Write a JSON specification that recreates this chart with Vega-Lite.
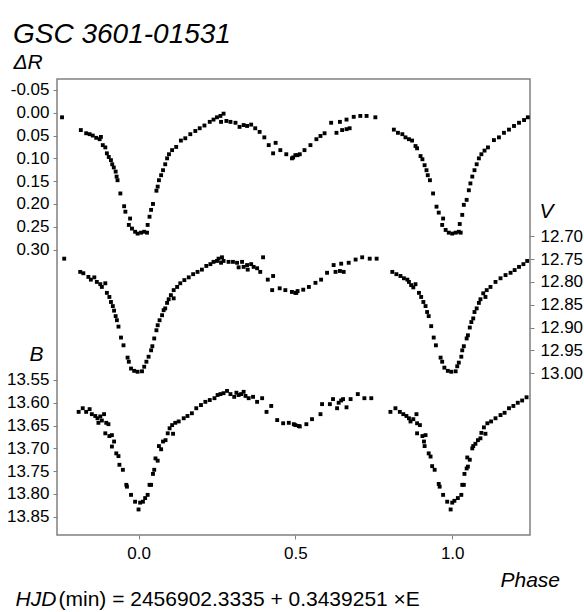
{
  "$schema": "https://vega.github.io/schema/vega-lite/v6.json",
  "width": 473,
  "height": 456,
  "autosize": {"type": "none"},
  "padding": {"left": 57, "top": 79, "right": 54, "bottom": 77},
  "background": "white",
  "title": {
    "text": "GSC 3601-01531",
    "anchor": "start",
    "frame": "group",
    "dx": -44,
    "dy": 2,
    "fontSize": 28,
    "fontStyle": "italic",
    "fontWeight": "normal",
    "font": "Liberation Sans",
    "color": "black"
  },
  "config": {
    "font": "Liberation Sans",
    "view": {"stroke": "#808080", "strokeWidth": 1.5},
    "axis": {
      "domain": false,
      "grid": false,
      "tickColor": "#808080",
      "tickSize": 4,
      "labelFont": "Liberation Sans",
      "labelFontSize": 17,
      "labelColor": "black",
      "titleFont": "Liberation Sans",
      "titleFontSize": 21,
      "titleFontStyle": "italic",
      "titleFontWeight": "normal",
      "titleColor": "black"
    }
  },
  "datasets": {
    "R": [
      {"phase": -0.244, "R": 0.010}, {"phase": -0.184, "R": 0.038}, {"phase": -0.167, "R": 0.045}, {"phase": -0.156, "R": 0.047},
      {"phase": -0.146, "R": 0.050}, {"phase": -0.135, "R": 0.055}, {"phase": -0.124, "R": 0.058}, {"phase": -0.120, "R": 0.053},
      {"phase": -0.114, "R": 0.071}, {"phase": -0.106, "R": 0.076}, {"phase": -0.101, "R": 0.089}, {"phase": -0.095, "R": 0.097},
      {"phase": -0.088, "R": 0.104}, {"phase": -0.084, "R": 0.113}, {"phase": -0.079, "R": 0.120}, {"phase": -0.073, "R": 0.129},
      {"phase": -0.070, "R": 0.140}, {"phase": -0.067, "R": 0.148}, {"phase": -0.058, "R": 0.177}, {"phase": -0.046, "R": 0.205},
      {"phase": -0.042, "R": 0.217}, {"phase": -0.027, "R": 0.232}, {"phase": -0.031, "R": 0.246}, {"phase": -0.021, "R": 0.254},
      {"phase": -0.011, "R": 0.261}, {"phase": -0.003, "R": 0.265}, {"phase": 0.008, "R": 0.263}, {"phase": 0.018, "R": 0.261},
      {"phase": 0.027, "R": 0.263}, {"phase": 0.029, "R": 0.246}, {"phase": 0.035, "R": 0.228}, {"phase": 0.040, "R": 0.213},
      {"phase": 0.046, "R": 0.200}, {"phase": 0.057, "R": 0.171}, {"phase": 0.061, "R": 0.162}, {"phase": 0.065, "R": 0.148},
      {"phase": 0.072, "R": 0.137}, {"phase": 0.078, "R": 0.126}, {"phase": 0.085, "R": 0.113}, {"phase": 0.091, "R": 0.100},
      {"phase": 0.097, "R": 0.091}, {"phase": 0.107, "R": 0.082}, {"phase": 0.120, "R": 0.075}, {"phase": 0.135, "R": 0.061},
      {"phase": 0.149, "R": 0.056}, {"phase": 0.165, "R": 0.047}, {"phase": 0.181, "R": 0.040}, {"phase": 0.195, "R": 0.034},
      {"phase": 0.210, "R": 0.028}, {"phase": 0.227, "R": 0.020}, {"phase": 0.239, "R": 0.015}, {"phase": 0.250, "R": 0.010},
      {"phase": 0.261, "R": 0.007}, {"phase": 0.271, "R": 0.002}, {"phase": 0.263, "R": 0.020}, {"phase": 0.280, "R": 0.018},
      {"phase": 0.293, "R": 0.020}, {"phase": 0.309, "R": 0.022}, {"phase": 0.322, "R": 0.031}, {"phase": 0.335, "R": 0.027},
      {"phase": 0.346, "R": 0.029}, {"phase": 0.359, "R": 0.026}, {"phase": 0.372, "R": 0.034}, {"phase": 0.386, "R": 0.042},
      {"phase": 0.401, "R": 0.054}, {"phase": 0.415, "R": 0.071}, {"phase": 0.429, "R": 0.089}, {"phase": 0.437, "R": 0.066},
      {"phase": 0.452, "R": 0.082}, {"phase": 0.471, "R": 0.091}, {"phase": 0.489, "R": 0.100}, {"phase": 0.493, "R": 0.098},
      {"phase": 0.500, "R": 0.093}, {"phase": 0.507, "R": 0.093}, {"phase": 0.514, "R": 0.091}, {"phase": 0.529, "R": 0.082},
      {"phase": 0.548, "R": 0.071}, {"phase": 0.567, "R": 0.058}, {"phase": 0.580, "R": 0.051}, {"phase": 0.593, "R": 0.045},
      {"phase": 0.614, "R": 0.022}, {"phase": 0.631, "R": 0.044}, {"phase": 0.642, "R": 0.020}, {"phase": 0.649, "R": 0.038},
      {"phase": 0.663, "R": 0.036}, {"phase": 0.673, "R": 0.034}, {"phase": 0.663, "R": 0.015}, {"phase": 0.686, "R": 0.009},
      {"phase": 0.707, "R": 0.007}, {"phase": 0.727, "R": 0.007}, {"phase": 0.755, "R": 0.010}, {"phase": 0.814, "R": 0.037},
      {"phase": 0.827, "R": 0.044}, {"phase": 0.841, "R": 0.047}, {"phase": 0.851, "R": 0.054}, {"phase": 0.862, "R": 0.058},
      {"phase": 0.872, "R": 0.061}, {"phase": 0.883, "R": 0.073}, {"phase": 0.888, "R": 0.078}, {"phase": 0.899, "R": 0.095},
      {"phase": 0.905, "R": 0.102}, {"phase": 0.912, "R": 0.115}, {"phase": 0.918, "R": 0.126}, {"phase": 0.922, "R": 0.137},
      {"phase": 0.929, "R": 0.148}, {"phase": 0.939, "R": 0.177}, {"phase": 0.950, "R": 0.206}, {"phase": 0.957, "R": 0.219},
      {"phase": 0.971, "R": 0.232}, {"phase": 0.968, "R": 0.246}, {"phase": 0.979, "R": 0.257}, {"phase": 0.989, "R": 0.263},
      {"phase": 1.000, "R": 0.265}, {"phase": 1.011, "R": 0.263}, {"phase": 1.021, "R": 0.261}, {"phase": 1.027, "R": 0.263},
      {"phase": 1.024, "R": 0.244}, {"phase": 1.032, "R": 0.224}, {"phase": 1.037, "R": 0.202}, {"phase": 1.046, "R": 0.191},
      {"phase": 1.053, "R": 0.170}, {"phase": 1.058, "R": 0.155}, {"phase": 1.064, "R": 0.140}, {"phase": 1.071, "R": 0.126},
      {"phase": 1.078, "R": 0.113}, {"phase": 1.085, "R": 0.100}, {"phase": 1.093, "R": 0.091}, {"phase": 1.103, "R": 0.083},
      {"phase": 1.114, "R": 0.076}, {"phase": 1.133, "R": 0.060}, {"phase": 1.149, "R": 0.054}, {"phase": 1.165, "R": 0.044},
      {"phase": 1.181, "R": 0.037}, {"phase": 1.197, "R": 0.029}, {"phase": 1.213, "R": 0.022}, {"phase": 1.229, "R": 0.016},
      {"phase": 1.241, "R": 0.010}
    ],
    "V": [
      {"phase": -0.237, "V": 12.749}, {"phase": -0.186, "V": 12.778}, {"phase": -0.176, "V": 12.781}, {"phase": -0.160, "V": 12.789},
      {"phase": -0.152, "V": 12.795}, {"phase": -0.141, "V": 12.790}, {"phase": -0.133, "V": 12.800}, {"phase": -0.122, "V": 12.805},
      {"phase": -0.117, "V": 12.811}, {"phase": -0.106, "V": 12.803}, {"phase": -0.101, "V": 12.824}, {"phase": -0.093, "V": 12.833},
      {"phase": -0.088, "V": 12.844}, {"phase": -0.082, "V": 12.853}, {"phase": -0.078, "V": 12.863}, {"phase": -0.073, "V": 12.875},
      {"phase": -0.069, "V": 12.884}, {"phase": -0.064, "V": 12.898}, {"phase": -0.056, "V": 12.922}, {"phase": -0.048, "V": 12.939},
      {"phase": -0.035, "V": 12.966}, {"phase": -0.031, "V": 12.975}, {"phase": -0.024, "V": 12.990}, {"phase": -0.014, "V": 12.995},
      {"phase": -0.003, "V": 12.997}, {"phase": 0.011, "V": 12.996}, {"phase": 0.018, "V": 12.986}, {"phase": 0.025, "V": 12.975},
      {"phase": 0.032, "V": 12.964}, {"phase": 0.040, "V": 12.950}, {"phase": 0.044, "V": 12.941}, {"phase": 0.050, "V": 12.924},
      {"phase": 0.057, "V": 12.906}, {"phase": 0.061, "V": 12.895}, {"phase": 0.067, "V": 12.884}, {"phase": 0.075, "V": 12.873},
      {"phase": 0.080, "V": 12.862}, {"phase": 0.085, "V": 12.858}, {"phase": 0.091, "V": 12.846}, {"phase": 0.096, "V": 12.838},
      {"phase": 0.103, "V": 12.829}, {"phase": 0.112, "V": 12.836}, {"phase": 0.112, "V": 12.818}, {"phase": 0.123, "V": 12.811},
      {"phase": 0.133, "V": 12.803}, {"phase": 0.146, "V": 12.796}, {"phase": 0.160, "V": 12.790}, {"phase": 0.174, "V": 12.783},
      {"phase": 0.188, "V": 12.778}, {"phase": 0.202, "V": 12.773}, {"phase": 0.216, "V": 12.765}, {"phase": 0.229, "V": 12.761},
      {"phase": 0.239, "V": 12.756}, {"phase": 0.250, "V": 12.754}, {"phase": 0.255, "V": 12.749}, {"phase": 0.266, "V": 12.746},
      {"phase": 0.271, "V": 12.754}, {"phase": 0.263, "V": 12.758}, {"phase": 0.287, "V": 12.756}, {"phase": 0.301, "V": 12.756},
      {"phase": 0.314, "V": 12.758}, {"phase": 0.319, "V": 12.768}, {"phase": 0.330, "V": 12.756}, {"phase": 0.335, "V": 12.767},
      {"phase": 0.346, "V": 12.763}, {"phase": 0.348, "V": 12.773}, {"phase": 0.359, "V": 12.761}, {"phase": 0.367, "V": 12.767},
      {"phase": 0.378, "V": 12.770}, {"phase": 0.388, "V": 12.778}, {"phase": 0.397, "V": 12.746}, {"phase": 0.412, "V": 12.795},
      {"phase": 0.429, "V": 12.787}, {"phase": 0.426, "V": 12.818}, {"phase": 0.450, "V": 12.814}, {"phase": 0.468, "V": 12.818},
      {"phase": 0.489, "V": 12.822}, {"phase": 0.503, "V": 12.824}, {"phase": 0.507, "V": 12.820}, {"phase": 0.500, "V": 12.824},
      {"phase": 0.525, "V": 12.817}, {"phase": 0.543, "V": 12.811}, {"phase": 0.564, "V": 12.802}, {"phase": 0.582, "V": 12.795},
      {"phase": 0.601, "V": 12.780}, {"phase": 0.622, "V": 12.763}, {"phase": 0.628, "V": 12.778}, {"phase": 0.642, "V": 12.776},
      {"phase": 0.646, "V": 12.760}, {"phase": 0.654, "V": 12.778}, {"phase": 0.670, "V": 12.758}, {"phase": 0.692, "V": 12.751},
      {"phase": 0.713, "V": 12.746}, {"phase": 0.737, "V": 12.749}, {"phase": 0.759, "V": 12.749}, {"phase": 0.809, "V": 12.778},
      {"phase": 0.822, "V": 12.783}, {"phase": 0.835, "V": 12.787}, {"phase": 0.846, "V": 12.792}, {"phase": 0.857, "V": 12.795},
      {"phase": 0.862, "V": 12.800}, {"phase": 0.869, "V": 12.807}, {"phase": 0.876, "V": 12.812}, {"phase": 0.883, "V": 12.805},
      {"phase": 0.894, "V": 12.824}, {"phase": 0.901, "V": 12.833}, {"phase": 0.908, "V": 12.844}, {"phase": 0.915, "V": 12.853},
      {"phase": 0.920, "V": 12.866}, {"phase": 0.925, "V": 12.875}, {"phase": 0.933, "V": 12.897}, {"phase": 0.941, "V": 12.922},
      {"phase": 0.948, "V": 12.939}, {"phase": 0.963, "V": 12.966}, {"phase": 0.968, "V": 12.975}, {"phase": 0.975, "V": 12.988},
      {"phase": 0.986, "V": 12.995}, {"phase": 0.997, "V": 12.997}, {"phase": 1.011, "V": 12.996}, {"phase": 1.016, "V": 12.985},
      {"phase": 1.021, "V": 12.977}, {"phase": 1.029, "V": 12.964}, {"phase": 1.032, "V": 12.950}, {"phase": 1.037, "V": 12.941},
      {"phase": 1.046, "V": 12.924}, {"phase": 1.050, "V": 12.917}, {"phase": 1.056, "V": 12.900}, {"phase": 1.061, "V": 12.888},
      {"phase": 1.067, "V": 12.880}, {"phase": 1.071, "V": 12.866}, {"phase": 1.078, "V": 12.858}, {"phase": 1.085, "V": 12.846},
      {"phase": 1.090, "V": 12.838}, {"phase": 1.099, "V": 12.825}, {"phase": 1.106, "V": 12.833}, {"phase": 1.110, "V": 12.818},
      {"phase": 1.122, "V": 12.811}, {"phase": 1.138, "V": 12.800}, {"phase": 1.154, "V": 12.792}, {"phase": 1.170, "V": 12.785},
      {"phase": 1.186, "V": 12.780}, {"phase": 1.199, "V": 12.774}, {"phase": 1.213, "V": 12.767}, {"phase": 1.227, "V": 12.761},
      {"phase": 1.239, "V": 12.754}
    ],
    "B": [
      {"phase": -0.191, "B": 13.620}, {"phase": -0.178, "B": 13.612}, {"phase": -0.167, "B": 13.620}, {"phase": -0.156, "B": 13.614},
      {"phase": -0.149, "B": 13.625}, {"phase": -0.138, "B": 13.629}, {"phase": -0.131, "B": 13.634}, {"phase": -0.122, "B": 13.630},
      {"phase": -0.128, "B": 13.644}, {"phase": -0.117, "B": 13.639}, {"phase": -0.110, "B": 13.625}, {"phase": -0.103, "B": 13.644},
      {"phase": -0.096, "B": 13.647}, {"phase": -0.106, "B": 13.667}, {"phase": -0.093, "B": 13.673}, {"phase": -0.085, "B": 13.671},
      {"phase": -0.078, "B": 13.685}, {"phase": -0.085, "B": 13.696}, {"phase": -0.071, "B": 13.711}, {"phase": -0.064, "B": 13.717},
      {"phase": -0.061, "B": 13.736}, {"phase": -0.050, "B": 13.747}, {"phase": -0.039, "B": 13.780}, {"phase": -0.037, "B": 13.784},
      {"phase": -0.024, "B": 13.802}, {"phase": -0.011, "B": 13.817}, {"phase": 0.000, "B": 13.834}, {"phase": 0.005, "B": 13.819},
      {"phase": 0.014, "B": 13.817}, {"phase": 0.021, "B": 13.809}, {"phase": 0.029, "B": 13.802}, {"phase": 0.035, "B": 13.780},
      {"phase": 0.040, "B": 13.780}, {"phase": 0.046, "B": 13.756}, {"phase": 0.050, "B": 13.747}, {"phase": 0.054, "B": 13.722},
      {"phase": 0.061, "B": 13.727}, {"phase": 0.065, "B": 13.695}, {"phase": 0.072, "B": 13.702}, {"phase": 0.078, "B": 13.685},
      {"phase": 0.086, "B": 13.682}, {"phase": 0.093, "B": 13.667}, {"phase": 0.099, "B": 13.656}, {"phase": 0.110, "B": 13.668},
      {"phase": 0.107, "B": 13.649}, {"phase": 0.117, "B": 13.644}, {"phase": 0.128, "B": 13.641}, {"phase": 0.144, "B": 13.634},
      {"phase": 0.156, "B": 13.629}, {"phase": 0.170, "B": 13.623}, {"phase": 0.184, "B": 13.612}, {"phase": 0.199, "B": 13.605},
      {"phase": 0.213, "B": 13.598}, {"phase": 0.227, "B": 13.594}, {"phase": 0.242, "B": 13.590}, {"phase": 0.252, "B": 13.583},
      {"phase": 0.261, "B": 13.581}, {"phase": 0.271, "B": 13.579}, {"phase": 0.282, "B": 13.574}, {"phase": 0.293, "B": 13.581},
      {"phase": 0.305, "B": 13.587}, {"phase": 0.312, "B": 13.578}, {"phase": 0.319, "B": 13.583}, {"phase": 0.327, "B": 13.581},
      {"phase": 0.335, "B": 13.576}, {"phase": 0.341, "B": 13.585}, {"phase": 0.351, "B": 13.590}, {"phase": 0.365, "B": 13.587},
      {"phase": 0.378, "B": 13.598}, {"phase": 0.394, "B": 13.590}, {"phase": 0.408, "B": 13.620}, {"phase": 0.423, "B": 13.607},
      {"phase": 0.442, "B": 13.638}, {"phase": 0.461, "B": 13.645}, {"phase": 0.479, "B": 13.644}, {"phase": 0.495, "B": 13.647},
      {"phase": 0.511, "B": 13.651}, {"phase": 0.500, "B": 13.649}, {"phase": 0.514, "B": 13.652}, {"phase": 0.535, "B": 13.647},
      {"phase": 0.553, "B": 13.636}, {"phase": 0.580, "B": 13.625}, {"phase": 0.585, "B": 13.603}, {"phase": 0.610, "B": 13.603},
      {"phase": 0.620, "B": 13.592}, {"phase": 0.633, "B": 13.612}, {"phase": 0.638, "B": 13.600}, {"phase": 0.646, "B": 13.595},
      {"phase": 0.652, "B": 13.592}, {"phase": 0.663, "B": 13.610}, {"phase": 0.676, "B": 13.592}, {"phase": 0.699, "B": 13.581},
      {"phase": 0.720, "B": 13.590}, {"phase": 0.742, "B": 13.590}, {"phase": 0.803, "B": 13.620}, {"phase": 0.819, "B": 13.612},
      {"phase": 0.833, "B": 13.620}, {"phase": 0.844, "B": 13.625}, {"phase": 0.854, "B": 13.629}, {"phase": 0.862, "B": 13.634},
      {"phase": 0.867, "B": 13.641}, {"phase": 0.876, "B": 13.636}, {"phase": 0.886, "B": 13.625}, {"phase": 0.888, "B": 13.645},
      {"phase": 0.897, "B": 13.649}, {"phase": 0.888, "B": 13.667}, {"phase": 0.905, "B": 13.673}, {"phase": 0.915, "B": 13.671},
      {"phase": 0.910, "B": 13.685}, {"phase": 0.912, "B": 13.695}, {"phase": 0.925, "B": 13.711}, {"phase": 0.931, "B": 13.718},
      {"phase": 0.936, "B": 13.739}, {"phase": 0.944, "B": 13.747}, {"phase": 0.957, "B": 13.778}, {"phase": 0.960, "B": 13.784},
      {"phase": 0.971, "B": 13.802}, {"phase": 0.984, "B": 13.817}, {"phase": 0.995, "B": 13.834}, {"phase": 1.000, "B": 13.819},
      {"phase": 1.007, "B": 13.815}, {"phase": 1.018, "B": 13.809}, {"phase": 1.029, "B": 13.802}, {"phase": 1.032, "B": 13.780},
      {"phase": 1.037, "B": 13.780}, {"phase": 1.039, "B": 13.756}, {"phase": 1.046, "B": 13.744}, {"phase": 1.050, "B": 13.740},
      {"phase": 1.048, "B": 13.720}, {"phase": 1.056, "B": 13.725}, {"phase": 1.064, "B": 13.700}, {"phase": 1.067, "B": 13.695},
      {"phase": 1.074, "B": 13.690}, {"phase": 1.082, "B": 13.682}, {"phase": 1.090, "B": 13.678}, {"phase": 1.093, "B": 13.666},
      {"phase": 1.106, "B": 13.668}, {"phase": 1.101, "B": 13.654}, {"phase": 1.112, "B": 13.645}, {"phase": 1.124, "B": 13.641},
      {"phase": 1.138, "B": 13.634}, {"phase": 1.154, "B": 13.627}, {"phase": 1.167, "B": 13.622}, {"phase": 1.181, "B": 13.612},
      {"phase": 1.195, "B": 13.607}, {"phase": 1.209, "B": 13.600}, {"phase": 1.223, "B": 13.595}, {"phase": 1.237, "B": 13.588}
    ]
  },
  "layer": [
    {
      "data": {"name": "R"},
      "mark": {"type": "square", "size": 15, "color": "black", "opacity": 1},
      "encoding": {
        "x": {
          "field": "phase", "type": "quantitative",
          "scale": {"domain": [-0.26, 1.248], "nice": false, "zero": false},
          "axis": {
            "orient": "bottom", "values": [0, 0.5, 1], "format": ".1f",
            "labelPadding": 6, "title": "Phase",
            "titleX": 443, "titleY": 51, "titleAlign": "left", "titleAnchor": null,
            "titleBaseline": "alphabetic", "titleFontSize": 21
          }
        },
        "y": {
          "field": "R", "type": "quantitative",
          "scale": {"domain": [-0.074, 0.926], "reverse": true, "nice": false, "zero": false},
          "axis": {
            "orient": "left",
            "values": [-0.05, 0, 0.05, 0.1, 0.15, 0.2, 0.25, 0.3],
            "labelExpr": "replace(format(datum.value, '.2f'), '\u2212', '-')",
            "labelPadding": 4, "title": "ΔR", "titleAngle": 0,
            "titleX": -44, "titleY": -11, "titleAlign": "left", "titleBaseline": "alphabetic"
          }
        }
      }
    },
    {
      "data": {"name": "V"},
      "mark": {"type": "square", "size": 15, "color": "black", "opacity": 1},
      "encoding": {
        "x": {
          "field": "phase", "type": "quantitative",
          "scale": {"domain": [-0.26, 1.248], "nice": false, "zero": false},
          "axis": {
            "orient": "bottom", "labels": false, "ticks": false, "domain": false,
            "title": "HJD", "titleX": -42, "titleY": 70, "titleAlign": "left",
            "titleBaseline": "alphabetic", "titleFontSize": 21, "titleFontStyle": "italic"
          }
        },
        "y": {
          "field": "V", "type": "quantitative",
          "scale": {"domain": [12.355, 13.355], "reverse": true, "nice": false, "zero": false},
          "axis": {
            "orient": "right",
            "values": [12.7, 12.75, 12.8, 12.85, 12.9, 12.95, 13.0],
            "format": ".2f", "labelPadding": 6, "title": "V", "titleAngle": 0,
            "titleX": 9, "titleY": 138, "titleAlign": "left", "titleBaseline": "alphabetic"
          }
        }
      }
    },
    {
      "data": {"name": "B"},
      "mark": {"type": "square", "size": 15, "color": "black", "opacity": 1},
      "encoding": {
        "x": {
          "field": "phase", "type": "quantitative",
          "scale": {"domain": [-0.26, 1.248], "nice": false, "zero": false},
          "axis": {
            "orient": "bottom", "labels": false, "ticks": false, "domain": false,
            "title": "(min) = 2456902.3335 + 0.3439251 ×E", "titleX": 1, "titleY": 70, "titleAlign": "left",
            "titleBaseline": "alphabetic", "titleFontSize": 21, "titleFontStyle": "normal"
          }
        },
        "y": {
          "field": "B", "type": "quantitative",
          "scale": {"domain": [12.89, 13.89], "reverse": true, "nice": false, "zero": false},
          "axis": {
            "orient": "left",
            "values": [13.55, 13.6, 13.65, 13.7, 13.75, 13.8, 13.85],
            "format": ".2f", "labelPadding": 4, "title": "B", "titleAngle": 0,
            "titleX": -14, "titleY": 281, "titleAlign": "right", "titleBaseline": "alphabetic"
          }
        }
      }
    }
  ],
  "resolve": {
    "scale": {"y": "independent"},
    "axis": {"y": "independent", "x": "independent"}
  }
}
